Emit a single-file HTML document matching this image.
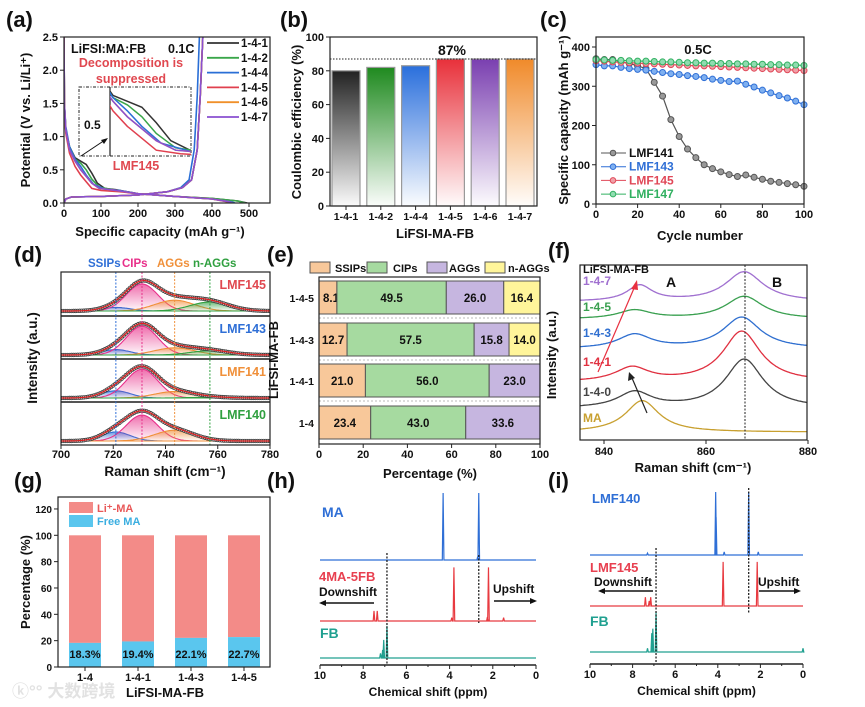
<!DOCTYPE html>
<html><head><meta charset="utf-8"><style>
html,body{margin:0;padding:0;background:#fff;}
svg{display:block;font-family:"Liberation Sans","Noto Sans CJK SC",sans-serif;font-weight:bold;}
</style></head><body>
<svg id="fig" width="865" height="707" viewBox="0 0 865 707" xmlns="http://www.w3.org/2000/svg">
<defs id="defs"></defs>
</svg>
<script>
// ===== data arrays =====
const aLabels=['1-4-1','1-4-2','1-4-4','1-4-5','1-4-6','1-4-7'];
const aDis141=[[0,2.5],[1,1.5],[5,1.1],[15,0.85],[30,0.68],[45,0.63],[60,0.58],[75,0.45],[90,0.3],[110,0.22],[140,0.2],[200,0.14],[300,0.1],[400,0.07],[470,0.03],[495,0]];
const aDis142=[[0,2.5],[1,1.5],[5,1.1],[15,0.85],[30,0.66],[45,0.6],[60,0.5],[75,0.36],[95,0.24],[130,0.2],[200,0.14],[300,0.1],[400,0.07],[470,0.03],[490,0]];
const aDis144=[[0,2.5],[1,1.5],[5,1.15],[15,0.85],[30,0.66],[45,0.55],[60,0.42],[80,0.28],[110,0.21],[150,0.19],[200,0.14],[300,0.1],[400,0.06],[450,0.02],[462,0]];
const aDis145=[[0,2.5],[1,1.4],[5,1.05],[15,0.75],[30,0.55],[45,0.42],[60,0.32],[75,0.22],[100,0.19],[150,0.17],[200,0.14],[300,0.1],[400,0.06],[440,0.02],[450,0]];
const aDis146=[[0,2.5],[1,1.5],[5,1.1],[15,0.8],[30,0.63],[45,0.5],[60,0.4],[75,0.3],[95,0.22],[140,0.19],[200,0.14],[300,0.1],[400,0.06],[445,0.02],[455,0]];
const aDis147=[[0,2.5],[1,1.5],[5,1.1],[15,0.8],[30,0.63],[45,0.5],[60,0.4],[75,0.3],[95,0.22],[140,0.19],[200,0.14],[300,0.1],[400,0.06],[445,0.02],[455,0]];
const aChgMain=[[0,0],[5,0.06],[20,0.09],[100,0.1],[200,0.12],[280,0.17],[320,0.23],[345,0.35],[360,0.8],[368,1.6],[375,2.5]];
const aChgBlue=[[0,0],[5,0.06],[20,0.09],[100,0.1],[200,0.12],[280,0.17],[315,0.23],[338,0.35],[352,0.8],[360,1.6],[366,2.5]];
const bLabels=['1-4-1','1-4-2','1-4-4','1-4-5','1-4-6','1-4-7'];
const bValues=[80,82,83,87,87,87];
const cCycles=[0,4,8,12,16,20,24,28,32,36,40,44,48,52,56,60,64,68,72,76,80,84,88,92,96,100];
const cLMF141=[370,368,368,362,358,352,345,310,275,215,172,140,118,100,90,82,75,70,74,68,63,58,55,52,49,45];
const cLMF143=[355,352,352,348,345,343,341,338,335,332,330,327,325,322,318,315,312,313,305,298,290,283,276,270,262,253];
const cLMF145=[365,364,362,361,360,359,358,357,356,355,354,353,352,352,351,350,349,348,347,346,345,344,343,342,341,340];
const cLMF147=[368,367,366,366,365,364,364,363,362,362,361,360,360,359,359,358,358,357,357,356,356,355,355,354,354,353];
const dSamples=['LMF145','LMF143','LMF141','LMF140'];
const dCenters=[721,731,743.5,757];
const dSigma=[5.5,6,7.5,7.5];
const dSSIP=[0.1,0.15,0.2,0.25];
const dCIP=[0.75,0.8,0.8,0.72];
const dAGG=[0.3,0.2,0.18,0.3];
const dNAGG=[0.25,0.12,0.02,0];
const eRows=['1-4-5','1-4-3','1-4-1','1-4'];
const eSSIP=[8.1,12.7,21.0,23.4];
const eCIP=[49.5,57.5,56.0,43.0];
const eAGG=[26.0,15.8,23.0,33.6];
const eNAGG=[16.4,14.0,0,0];
const fLabels=['1-4-7','1-4-5','1-4-3','1-4-1','1-4-0','MA'];
const fBase=[79,69,52,33,18,4.5];
const fAmpA=[9,5,8,8,9,18];
const fPosA=[847,846,846,845.5,846,847.5];
const fAmpB=[17,13,18,29,28,0];
const fPosB=[867.5,867.5,867,867,867.5,867.5];
const gCats=['1-4','1-4-1','1-4-3','1-4-5'];
const gFree=[18.3,19.4,22.1,22.7];
const hMA=[[4.3,100],[2.65,100],[2.7,5]];
const hMix=[[3.8,80],[3.9,5],[2.2,80],[2.25,6],[7.5,15],[7.35,15],[1.5,5]];
const hFB=[[6.9,48],[7.05,27],[7.2,7],[7.1,12]];
const iLMF140=[[4.1,100],[4.08,60],[2.55,100],[3.7,5],[2.1,5],[7.3,3]];
const iLMF145=[[3.75,70],[2.15,70],[7.4,14],[7.15,14],[7.22,8]];
const iFB=[[6.9,63],[7.05,37],[7.1,30],[7.3,6],[0,6]];

const NS='http://www.w3.org/2000/svg';
const svg=document.getElementById('fig');
const defs=document.getElementById('defs');
function mk(tag,attrs,parent){const e=document.createElementNS(NS,tag);for(const k in attrs)e.setAttribute(k,attrs[k]);(parent||svg).appendChild(e);return e;}
function tx(parent,x,y,s,size,fill,anchor,extra){const e=mk('text',Object.assign({x:x,y:y,'font-size':size||11,fill:fill||'#111','text-anchor':anchor||'start'},extra||{}),parent);e.textContent=s;return e;}
function pts(arr,fx,fy){return arr.map(p=>fx(p[0]).toFixed(1)+','+fy(p[1]).toFixed(1)).join(' ');}
function grad(id,color,op){const g=mk('linearGradient',{id:id,x1:0,y1:0,x2:0,y2:1},defs);mk('stop',{offset:'0%','stop-color':color,'stop-opacity':op==null?1:op},g);mk('stop',{offset:'100%','stop-color':color,'stop-opacity':0.02},g);return 'url(#'+id+')';}
function clip(id,x,y,w,h){const c=mk('clipPath',{id:id},defs);mk('rect',{x:x,y:y,width:w,height:h},c);return 'url(#'+id+')';}

// ===== panel labels =====
[['(a)',6,27],['(b)',280,27],['(c)',540,27],['(d)',14,262],['(e)',267,262],['(f)',548,258],['(g)',14,488],['(h)',267,488],['(i)',548,488]].forEach(p=>{
 const t=tx(svg,p[1],p[2],p[0],22,'#111');
 
 
});

// ===== Panel A =====
(function(){
 const g=mk('g',{});
 
 
 const ax=c=>64+c*0.37, ay=v=>203-v*66.4;
 const cl=clip('clipA',64,37,206,166);
 const cols=['#333','#3aa64a','#2a6fd6','#e0404f','#f0902a','#8a4fd0'];
 const dis=[aDis141,aDis142,aDis144,aDis145,aDis146,aDis147];
 const pg=mk('g',{'clip-path':cl},g);
 dis.forEach((d,i)=>{
  const l=mk('polyline',{points:pts(d,ax,ay),fill:'none',stroke:cols[i],'stroke-width':1.6},pg);
  
  
  const ch=i===2?aChgBlue:aChgMain;
  const l2=mk('polyline',{points:pts(ch,ax,ay),fill:'none',stroke:cols[i],'stroke-width':1.6},pg);
  
  
 });
 mk('rect',{x:64,y:37,width:206,height:166,fill:'none',stroke:'#222','stroke-width':1.2},g);
 [0,100,200,300,400,500].forEach(v=>{mk('line',{x1:ax(v),x2:ax(v),y1:203,y2:207,stroke:'#222'},g);tx(g,ax(v),217,String(v),11,'#111','middle');});
 [0,0.5,1,1.5,2,2.5].forEach(v=>{mk('line',{x1:60,x2:64,y1:ay(v),y2:ay(v),stroke:'#222'},g);tx(g,58,ay(v)+4,v.toFixed(1),11,'#111','end');});
 const yt=tx(g,0,0,'Potential (V vs. Li/Li\u207A)',13,'#111','middle',{transform:'translate(30,120) rotate(-90)'});
 
 
 const xt=tx(g,160,236,'Specific capacity (mAh g\u207B\u00B9)',13,'#111','middle');
 
 
 tx(g,71,53,'LiFSI:MA:FB',12.5,'#111');
 tx(g,168,53,'0.1C',12.5,'#111');
 tx(g,131,67,'Decomposition is',12.5,'#e04850','middle');
 tx(g,131,83,'suppressed',12.5,'#e04850','middle');
 mk('rect',{x:79,y:87,width:112,height:69,fill:'#fff',stroke:'#222','stroke-dasharray':'3,1.5,1,1.5','stroke-width':1},g);
 mk('line',{x1:110,x2:110,y1:87,y2:156,stroke:'#222','stroke-width':1.2},g);
 tx(g,84,129,'0.5',12,'#111');
 const ix=c=>113+(c-30)*(77/80), iy=v=>155-(v-0.18)*(68/0.57);
 const icl=clip('clipAin',110,87,81,69);
 const ig=mk('g',{'clip-path':icl},g);
 dis.forEach((d,i)=>{
  const l=mk('polyline',{points:pts(d,ix,iy),fill:'none',stroke:cols[i],'stroke-width':1.5},ig);
  
  
 });
 mk('line',{x1:81,y1:156,x2:105,y2:140,stroke:'#111','stroke-width':1},g);
 mk('polygon',{points:'108,138 101,140 104,144',fill:'#111'},g);
 tx(g,136,170,'LMF145',12.5,'#e04850','middle');
 aLabels.forEach((s,i)=>{
  const y=43+i*14.8;
  const lg=mk('g',{},g);
  
  
  mk('line',{x1:207,x2:239,y1:y,y2:y,stroke:cols[i],'stroke-width':1.8},lg);
  tx(lg,241,y+4,s,11.5,'#111');
 });
})();

// ===== Panel B =====
(function(){
 const g=mk('g',{});
 
 
 const bx=i=>346+i*34.8, by=v=>206-v*1.69;
 const cols=['#222','#1f8a1f','#2a6fdc','#e8303a','#7a3fb0','#f08a2a'];
 bValues.forEach((v,i)=>{
  const r=mk('rect',{x:bx(i)-14,y:by(v),width:28,height:206-by(v),fill:grad('gb'+i,cols[i]),stroke:'#999','stroke-width':1.2},g);
  
  
 });
 mk('line',{x1:330,x2:537,y1:by(87),y2:by(87),stroke:'#222','stroke-dasharray':'1.5,1.5'},g);
 tx(g,452,55,'87%',14,'#111','middle');
 mk('rect',{x:330,y:37,width:207,height:169,fill:'none',stroke:'#222','stroke-width':1.2},g);
 [0,20,40,60,80,100].forEach(v=>{mk('line',{x1:326,x2:330,y1:by(v),y2:by(v),stroke:'#222'},g);tx(g,324,by(v)+4,String(v),11,'#111','end');});
 bLabels.forEach((s,i)=>{mk('line',{x1:bx(i),x2:bx(i),y1:206,y2:210,stroke:'#222'},g);tx(g,bx(i),220,s,10.5,'#111','middle');});
 tx(g,0,0,'Coulombic efficiency (%)',13,'#111','middle',{transform:'translate(301,122) rotate(-90)'});
 tx(g,435,238,'LiFSI-MA-FB',13,'#111','middle');
})();

// ===== Panel C =====
(function(){
 const g=mk('g',{});
 
 
 const cx=c=>596+c*2.08, cy=v=>204-v*0.3925;
 const series=[['LMF141',cLMF141,'#555','#999'],['LMF143',cLMF143,'#2f6fd6','#7fb0f0'],['LMF145',cLMF145,'#e04858','#f0a0a8'],['LMF147',cLMF147,'#30b060','#90dcb0']];
 series.forEach(s=>{
  const sg=mk('g',{},g);
  
  
  mk('polyline',{points:cCycles.map((c,i)=>cx(c)+','+cy(s[1][i])).join(' '),fill:'none',stroke:s[2],'stroke-width':1.2},sg);
  cCycles.forEach((c,i)=>{
   const m=mk('circle',{cx:cx(c),cy:cy(s[1][i]),r:3,fill:s[3],stroke:s[2],'stroke-width':1},sg);
   
   
  });
 });
 mk('rect',{x:596,y:37,width:208,height:167,fill:'none',stroke:'#222','stroke-width':1.2},g);
 [0,100,200,300,400].forEach(v=>{mk('line',{x1:592,x2:596,y1:cy(v),y2:cy(v),stroke:'#222'},g);tx(g,590,cy(v)+4,String(v),11,'#111','end');});
 [0,20,40,60,80,100].forEach(v=>{mk('line',{x1:cx(v),x2:cx(v),y1:204,y2:208,stroke:'#222'},g);tx(g,cx(v),218,String(v),11,'#111','middle');});
 tx(g,0,0,'Specific capacity (mAh g\u207B\u00B9)',13,'#111','middle',{transform:'translate(568,120) rotate(-90)'});
 tx(g,700,240,'Cycle number',13,'#111','middle');
 tx(g,698,54,'0.5C',13,'#111','middle');
 series.forEach((s,i)=>{
  const y=153+i*13.7;
  const lg=mk('g',{},g);
  
  
  mk('line',{x1:601,x2:626,y1:y,y2:y,stroke:s[2]},lg);
  mk('circle',{cx:613,cy:y,r:2.8,fill:s[3],stroke:s[2]},lg);
  tx(lg,629,y+4,s[0],12,i===0?'#111':s[2]);
 });
})();

// ===== Panel D =====
(function(){
 const g=mk('g',{});
 
 
 const dx=v=>61+(v-700)*2.6125;
 const tops=[272,316,359,402];
 const compCols=['#2f6fd6','#e8308a','#f0903a','#30a040'];
 const amps=[dSSIP,dCIP,dAGG,dNAGG];
 const gauss=(v,c,s)=>Math.exp(-0.5*((v-c)/s)**2);
 const labCols=['#e04850','#2f6fd6','#f0903a','#30a040'];
 const cl=clip('clipD',61,272,209,173);
 dSamples.forEach((name,si)=>{
  const sg=mk('g',{'clip-path':cl},g);
  
  
  const base=tops[si]+39;
  const dy=I=>base-I*36;
  for(let k=0;k<4;k++){
   const a=amps[k][si]; if(a<=0) continue;
   let p=[];for(let v=700;v<=780;v+=0.5)p.push([v,a*gauss(v,dCenters[k],dSigma[k])]);
   const area=mk('path',{d:'M'+dx(700)+','+base+' L'+pts(p,dx,dy).split(' ').join(' L')+' L'+dx(780)+','+base+'Z',fill:grad('gd'+si+k,compCols[k],0.7),stroke:compCols[k],'stroke-width':1.1},sg);
   
   
  }
  const env=v=>{let s=0;for(let k=0;k<4;k++)s+=amps[k][si]*gauss(v,dCenters[k],dSigma[k]);return s;};
  for(let v=700;v<=780;v+=0.8){
   const m=mk('circle',{cx:dx(v),cy:dy(env(v)),r:1.8,fill:'#bbb',stroke:'#333','stroke-width':0.7},sg);
   
   
  }
  let p=[];for(let v=700;v<=780;v+=0.5)p.push([v,env(v)]);
  mk('polyline',{points:pts(p,dx,dy),fill:'none',stroke:'#e02020','stroke-width':1.2},sg);
  tx(g,266,tops[si]+17,name,12.5,labCols[si],'end');
  if(si>0) mk('line',{x1:61,x2:270,y1:tops[si],y2:tops[si],stroke:'#555','stroke-width':2},g);
 });
 [[721,'#2f6fd6'],[731,'#e8308a'],[743.5,'#f0903a'],[757,'#30a040']].forEach(l=>mk('line',{x1:dx(l[0]),x2:dx(l[0]),y1:272,y2:445,stroke:l[1],'stroke-dasharray':'2,1.5','stroke-width':1},g));
 mk('rect',{x:61,y:272,width:209,height:173,fill:'none',stroke:'#222','stroke-width':1.2},g);
 [700,720,740,760,780].forEach(v=>{mk('line',{x1:dx(v),x2:dx(v),y1:445,y2:449,stroke:'#222'},g);tx(g,dx(v),458,String(v),11,'#111','middle');});
 tx(g,0,0,'Intensity (a.u.)',13.5,'#111','middle',{transform:'translate(37,358) rotate(-90)'});
 tx(g,165,476,'Raman shift (cm\u207B\u00B9)',13.5,'#111','middle');
 tx(g,88,267,'SSIPs',11.5,'#2f6fd6');tx(g,122,267,'CIPs',11.5,'#e8308a');tx(g,157,267,'AGGs',11.5,'#f0903a');tx(g,193,267,'n-AGGs',11.5,'#30a040');
})();

// ===== Panel E =====
(function(){
 const g=mk('g',{});
 
 
 const ex=p=>319+p*2.21;
 const ys=[281,323,364,406], h=33;
 const cols=['#f8c89a','#a6daa0','#c6b6e0','#fff59a'];
 const parts=[eSSIP,eCIP,eAGG,eNAGG];
 const nm=['ssips','cips','aggs','n-aggs'];
 eRows.forEach((r,ri)=>{
  let acc=0;
  for(let k=0;k<4;k++){
   const v=parts[k][ri]; if(v<=0) continue;
   const rc=mk('rect',{x:ex(acc),y:ys[ri],width:ex(acc+v)-ex(acc),height:h,fill:cols[k],stroke:'#555','stroke-width':1},g);
   
   
   const cxp=k===0&&v<10?ex(acc)+12:(ex(acc)+ex(acc+v))/2;
   tx(g,cxp,ys[ri]+21,v.toFixed(1),11.5,'#111','middle');
   acc+=v;
  }
  tx(g,314,ys[ri]+21,r,10.5,'#111','end');
  if(ri<3) mk('line',{x1:319,x2:540,y1:ys[ri]+h+4,y2:ys[ri]+h+4,stroke:'#bbb','stroke-dasharray':'2,2'},g);
 });
 mk('rect',{x:319,y:277,width:221,height:167,fill:'none',stroke:'#222','stroke-width':1.2},g);
 [0,20,40,60,80,100].forEach(v=>{mk('line',{x1:ex(v),x2:ex(v),y1:444,y2:448,stroke:'#222'},g);tx(g,ex(v),458,String(v),11,'#111','middle');});
 tx(g,0,0,'LiFSI-MA-FB',13,'#111','middle',{transform:'translate(278,360) rotate(-90)'});
 tx(g,430,478,'Percentage (%)',13,'#111','middle');
 [['SSIPs',310,335],['CIPs',367,393],['AGGs',427,449],['n-AGGs',485,508]].forEach((l,i)=>{
  const lg=mk('g',{},g);
  
  
  mk('rect',{x:l[1],y:262,width:20,height:11,fill:cols[i],stroke:'#555'},lg);
  tx(lg,l[2],272,l[0],11,'#111');
 });
})();

// ===== Panel F =====
(function(){
 const g=mk('g',{});
 
 
 const fx=v=>604+(v-840)*5.1, fy=I=>440-I*1.75;
 const cols=['#a070d0','#3aa050','#2f6fd0','#e03040','#444','#c8a030'];
 const L=(d,w)=>1/(1+(d/w)**2);
 const cl=clip('clipF',580,265,227,175);
 const pg=mk('g',{'clip-path':cl},g);
 fLabels.forEach((s,i)=>{
  let p=[];for(let v=835;v<=881;v+=0.25)p.push([v,fBase[i]+fAmpA[i]*L(v-fPosA[i],i===0?3:4)+fAmpB[i]*L(v-fPosB[i],4.5)]);
  const l=mk('polyline',{points:pts(p,fx,fy),fill:'none',stroke:cols[i],'stroke-width':1.3},pg);
  
  
 });
 const ly=[285,311,337,366,396,422];
 fLabels.forEach((s,i)=>tx(g,583,ly[i],s,12,cols[i]));
 mk('line',{x1:745,x2:745,y1:265,y2:440,stroke:'#222','stroke-dasharray':'2,1.5'},g);
 mk('line',{x1:598,y1:372,x2:635,y2:286,stroke:'#e83040','stroke-width':1.2},g);
 mk('polygon',{points:'637,280 631,289 638,290',fill:'#e83040'},g);
 mk('line',{x1:647,y1:413,x2:632,y2:378,stroke:'#222','stroke-width':1.2},g);
 mk('polygon',{points:'629,372 628,381 635,378',fill:'#222'},g);
 tx(g,583,273,'LiFSI-MA-FB',11,'#111');
 tx(g,671,287,'A',14,'#111','middle');tx(g,777,287,'B',14,'#111','middle');
 mk('rect',{x:580,y:265,width:227,height:175,fill:'none',stroke:'#222','stroke-width':1.2},g);
 [840,860,880].forEach(v=>{mk('line',{x1:fx(v),x2:fx(v),y1:440,y2:444,stroke:'#222'},g);tx(g,fx(v),455,String(v),11,'#111','middle');});
 tx(g,0,0,'Intensity (a.u.)',13,'#111','middle',{transform:'translate(556,355) rotate(-90)'});
 tx(g,693,472,'Raman shift (cm\u207B\u00B9)',13,'#111','middle');
})();

// ===== Panel G =====
(function(){
 const g=mk('g',{});
 
 
 const gx=[85,138,191,244], gy=v=>667-v*1.317;
 gCats.forEach((c,i)=>{
  const r1=mk('rect',{x:gx[i]-16,y:gy(100),width:32,height:gy(gFree[i])-gy(100),fill:'#f38b88'},g);
  
  
  const r2=mk('rect',{x:gx[i]-16,y:gy(gFree[i]),width:32,height:667-gy(gFree[i]),fill:'#5ac6ee'},g);
  
  
  tx(g,gx[i],658,gFree[i].toFixed(1)+'%',11,'#111','middle');
  mk('line',{x1:gx[i],x2:gx[i],y1:667,y2:671,stroke:'#222'},g);
  tx(g,gx[i],681,c,11,'#111','middle');
 });
 mk('rect',{x:58,y:497,width:212,height:170,fill:'none',stroke:'#222','stroke-width':1.2},g);
 [0,20,40,60,80,100,120].forEach(v=>{mk('line',{x1:54,x2:58,y1:gy(v),y2:gy(v),stroke:'#222'},g);tx(g,52,gy(v)+4,String(v),10,'#111','end');});
 mk('rect',{x:69,y:502,width:24,height:11,fill:'#f38b88'},g);
 mk('rect',{x:69,y:515,width:24,height:12,fill:'#5ac6ee'},g);
 tx(g,97,512,'Li\u207A-MA',11,'#e85858');
 tx(g,97,525,'Free MA',11,'#3aaee0');
 tx(g,0,0,'Percentage (%)',13,'#111','middle',{transform:'translate(30,582) rotate(-90)'});
 tx(g,165,697,'LiFSI-MA-FB',13,'#111','middle');
 const wm=tx(g,12,697,'\u24DA\u00B0\u00B0 大数跨境',17,'#e2e2e2','start',{'font-family':'"Liberation Sans","Noto Sans CJK SC",sans-serif'});
 
 
})();

// ===== NMR panels =====
function nmr(name,x0,x1,axisY,spectra,sc){
 const g=mk('g',{});
 
 
 const px=p=>x0+(10-p)*(x1-x0)/10;
 spectra.forEach(s=>{
  const base=s.base, pk=s.peaks;
  let d='M'+x0+','+base;
  const sorted=pk.slice().sort((a,b)=>b[0]-a[0]);
  sorted.forEach(p=>{const x=px(p[0]);d+=' L'+(x-0.8)+','+base+' L'+x+','+(base-p[1]*sc)+' L'+(x+0.8)+','+base;});
  d+=' L'+x1+','+base;
  const l=mk('path',{d:d,fill:'none',stroke:s.color,'stroke-width':1.2},g);
  
  
 });
 mk('line',{x1:x0,x2:x1,y1:axisY,y2:axisY,stroke:'#222','stroke-width':1.4},g);
 for(let v=10;v>=0;v-=1){mk('line',{x1:px(v),x2:px(v),y1:axisY,y2:axisY+(v%2?2:4),stroke:'#222'},g);if(v%2===0)tx(g,px(v),axisY+14,String(v),11,'#111','middle');}
 tx(g,(x0+x1)/2,axisY+31,'Chemical shift (ppm)',12,'#111','middle');
 return {g:g,px:px};
}
(function(){
 const r=nmr('panel-h-nmr',320,536,665,[{label:'MA',base:560,color:'#2f6fd6',peaks:hMA},{label:'4MA-5FB',base:621,color:'#e83a40',peaks:hMix},{label:'FB',base:658,color:'#20a090',peaks:hFB}],0.67);
 const g=r.g,px=r.px;
 mk('line',{x1:px(6.9),x2:px(6.9),y1:553,y2:665,stroke:'#222','stroke-dasharray':'2,1.5','stroke-width':1.3},g);
 mk('line',{x1:px(2.65),x2:px(2.65),y1:555,y2:623,stroke:'#222','stroke-dasharray':'2,1.5','stroke-width':1.3},g);
 tx(g,322,517,'MA',14,'#2f6fd6');
 tx(g,319,581,'4MA-5FB',13,'#e84050');
 tx(g,319,596,'Downshift',12,'#111');
 mk('line',{x1:374,x2:324,y1:603,y2:603,stroke:'#111','stroke-width':1.5},g);
 mk('polygon',{points:'319,603 326,600 326,606',fill:'#111'},g);
 tx(g,493,593,'Upshift',12,'#111');
 mk('line',{x1:494,x2:532,y1:601,y2:601,stroke:'#111','stroke-width':1.5},g);
 mk('polygon',{points:'537,601 530,598 530,604',fill:'#111'},g);
 tx(g,320,638,'FB',14,'#20a090');
})();
(function(){
 const r=nmr('panel-i-nmr',590,803,664,[{label:'LMF140',base:555,color:'#2f6fd6',peaks:iLMF140},{label:'LMF145',base:606,color:'#e83a40',peaks:iLMF145},{label:'FB',base:652,color:'#20a090',peaks:iFB}],0.63);
 const g=r.g,px=r.px;
 mk('line',{x1:px(6.9),x2:px(6.9),y1:548,y2:664,stroke:'#222','stroke-dasharray':'2,1.5','stroke-width':1.3},g);
 mk('line',{x1:px(2.55),x2:px(2.55),y1:488,y2:613,stroke:'#222','stroke-dasharray':'2,1.5','stroke-width':1.3},g);
 tx(g,592,503,'LMF140',13,'#2f6fd6');
 tx(g,590,572,'LMF145',13,'#e84050');
 tx(g,594,586,'Downshift',12,'#111');
 mk('line',{x1:653,x2:604,y1:591,y2:591,stroke:'#111','stroke-width':1.5},g);
 mk('polygon',{points:'598,591 605,588 605,594',fill:'#111'},g);
 tx(g,758,586,'Upshift',12,'#111');
 mk('line',{x1:759,x2:795,y1:591,y2:591,stroke:'#111','stroke-width':1.5},g);
 mk('polygon',{points:'801,591 794,588 794,594',fill:'#111'},g);
 tx(g,590,626,'FB',14,'#20a090');
})();
</script>
</body></html>
